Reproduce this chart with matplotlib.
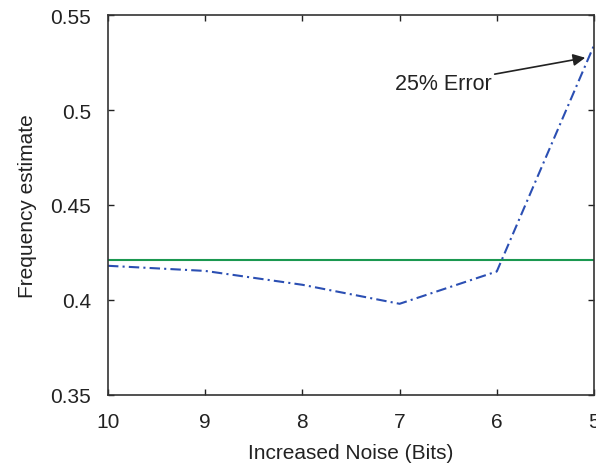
import numpy as np
import matplotlib
matplotlib.use("Agg")
import matplotlib.pyplot as plt

plt.rcParams['font.family'] = ['Liberation Sans', 'DejaVu Sans']

# data
noise_bits = [10, 9, 8, 7, 6, 5]
freq_est = [0.418, 0.4153, 0.408, 0.398, 0.415, 0.534]
true_freq = 0.421

fig = plt.figure(figsize=(5.96, 4.64), dpi=100)
ax = fig.add_axes([0.1812, 0.1466, 0.8154, 0.8189])

ax.axhline(true_freq, color='#1a9850', lw=1.5)
ax.plot(noise_bits, freq_est, color='#2b4fb3', lw=1.5, ls='-.',
        dashes=(5, 2, 1, 2))

ax.annotate('25% Error', xy=(5.09, 0.5275), xytext=(6.05, 0.514),
            fontsize=15.5, color='#222222', va='center', ha='right',
            arrowprops=dict(arrowstyle='-|>', color='#222222', lw=1.2,
                            mutation_scale=18, shrinkA=0, shrinkB=0))

ax.set_xlim(10, 5)
ax.set_ylim(0.35, 0.55)
ax.set_xticks([10, 9, 8, 7, 6, 5])
ax.set_yticks([0.35, 0.4, 0.45, 0.5, 0.55])
ax.set_yticklabels(['0.35', '0.4', '0.45', '0.5', '0.55'])
ax.tick_params(direction='in', top=True, right=True, labelsize=15,
               length=4, width=1, colors='#222222', pad=12)
for s in ax.spines.values():
    s.set_color('#333333')
    s.set_linewidth(1.2)

ax.set_xlabel('Increased Noise (Bits)', fontsize=15, color='#222222', labelpad=9)
ax.set_ylabel('Frequency estimate', fontsize=15, color='#222222', labelpad=10)

fig.savefig('out.png', dpi=100)
